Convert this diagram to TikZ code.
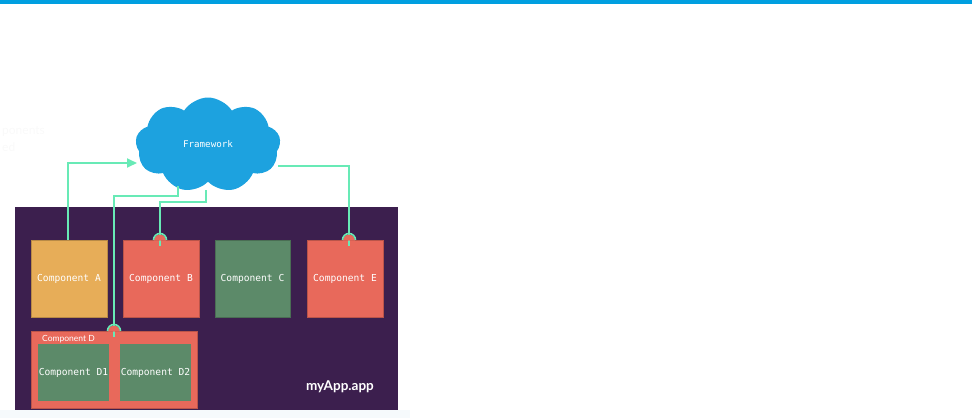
\documentclass[tikz,border=0pt]{standalone}
\usepackage{fontspec}
\setmainfont{Lato}
\newfontfamily\monofont{DejaVu Sans Mono}
\usetikzlibrary{shapes.symbols,arrows.meta}
\definecolor{topblue}{HTML}{009FE0}
\definecolor{cloudblue}{HTML}{1DA2DF}
\definecolor{appviolet}{HTML}{3C1F4E}
\definecolor{compred}{HTML}{E8695B}
\definecolor{comporange}{HTML}{E7AD58}
\definecolor{compgreen}{HTML}{5C8A69}
\definecolor{mint}{HTML}{68EAB6}
\definecolor{ghost}{HTML}{F9F9F9}
\definecolor{band}{HTML}{F6FAFC}
\tikzset{
  compbox/.style={rectangle, minimum width=76pt, minimum height=77pt, inner sep=0pt,
    draw=#1!80!black, line width=0.6pt, fill=#1, text=white, font=\monofont\fontsize{9.6}{11}\selectfont},
  subbox/.style={rectangle, minimum width=71pt, minimum height=57pt, inner sep=0pt,
    fill=compgreen, text=white, font=\monofont\fontsize{9.6}{11}\selectfont},
  conn/.style={draw=mint, line width=1.8pt},
}
\begin{document}
\begin{tikzpicture}[x=1pt,y=-1pt]
\useasboundingbox (0,0) rectangle (972,418);
% top rule
\fill[topblue] (0,0) rectangle (972,3.5);
% faint band at bottom
\fill[band] (0,410) rectangle (410,418);
% ghost text
\node[anchor=west, text=ghost, font=\fontsize{12}{13}\selectfont, inner sep=0pt] (g1) at (2,131) {ponents};
\node[anchor=west, text=ghost, font=\fontsize{12}{13}\selectfont, inner sep=0pt] (g2) at (2,147) {ed};
% app box
\node[rectangle, fill=appviolet, minimum width=383pt, minimum height=203pt, inner sep=0pt, anchor=north west] (app) at (15,207) {};
\node[anchor=east, text=white, font=\bfseries\fontsize{13.5}{15}\selectfont, inner sep=0pt] (applabel) at (374,387) {myApp.app};
% components
\node[compbox=comporange] (A) at (69,278.5) {Component A};
\node[compbox=compred] (B) at (161,278.5) {Component B};
\node[compbox=compgreen, minimum width=75pt] (C) at (252.5,278.5) {Component C};
\node[compbox=compred] (E) at (345,278.5) {Component E};
\node[rectangle, fill=compred, draw=compred!80!black, line width=0.6pt, minimum width=166pt, minimum height=77pt, inner sep=0pt] (D) at (114,369.5) {};
\node[anchor=west, text=white, font=\fontsize{8.5}{10}\selectfont, inner sep=0pt] (Dlabel) at (42,339.5) {Component D};
\node[subbox] (D1) at (73.5,372.5) {Component D1};
\node[subbox] (D2) at (155.5,372.5) {Component D2};
% cloud
\node[cloud, cloud puffs=9, cloud puff arc=115, aspect=1.5, fill=cloudblue, minimum width=145pt, minimum height=95pt, inner sep=0pt,
  text=white, font=\monofont\fontsize{9.2}{10}\selectfont] (fw) at (208,145) {\raisebox{2pt}{Framework}};
% connector points
\coordinate (fwA) at (137,163);
\coordinate (fwD) at (178,186);
\coordinate (fwB) at (206,190);
\coordinate (fwE) at (278,166);
\coordinate (Btop) at (160,240);
\coordinate (Etop) at (349,240);
\coordinate (Dtop) at (114,331);
% connectors
\draw[conn, -{Triangle[length=10pt,width=9pt]}] (A.north -| 68,0) |- (fwA);
\draw[conn] (fwD) -- ++(0,10) -| ([yshift=-6pt]Dtop);
\draw[conn] (fwB) -- ++(0,12) -| ([yshift=-6pt]Btop);
\draw[conn] (fwE) -| ([yshift=-6pt]Etop);
% bumps
\foreach \p in {Btop,Etop,Dtop}{
  \fill[compred] (\p) ++(-6,0.6) arc (180:360:6) -- cycle;
  \draw[mint, line width=1.6pt] (\p) ++(-6.5,0) arc (180:360:6.5);
}
\end{tikzpicture}
\end{document}
